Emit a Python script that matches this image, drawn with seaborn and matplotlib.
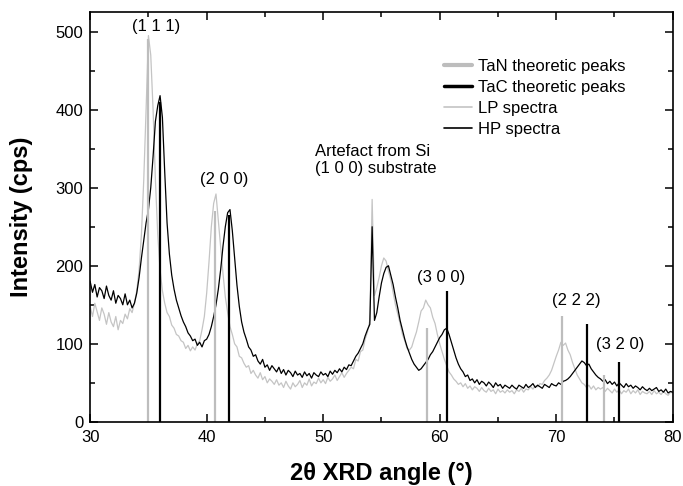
import numpy as np
import pandas as pd
import matplotlib
matplotlib.use("Agg")
import matplotlib.pyplot as plt
from matplotlib.lines import Line2D
from matplotlib.ticker import MultipleLocator
import seaborn as sns

# sampling grid of the spectra (2theta, degrees)
angle = np.round(np.linspace(30.0, 80.0, 251), 1)

lp_spectra = [
    148, 135, 152, 141, 130, 146, 138, 125, 140, 128, 122, 135, 118, 130, 126, 138, 132, 145, 140, 152,
    168, 195, 240, 310, 400, 495, 470, 400, 310, 240, 195, 168, 152, 140, 135, 124, 120, 112, 110, 104,
    102, 94, 98, 91, 96, 92, 100, 104, 118, 135, 165, 205, 250, 280, 292, 258, 225, 190, 160, 140,
    122, 112, 100, 96, 84, 82, 75, 70, 72, 62, 66, 60, 56, 63, 54, 58, 50, 55, 52, 48,
    54, 47, 50, 44, 52, 46, 42, 50, 45, 48, 53, 44, 50, 47, 55, 46, 51, 49, 56, 50,
    54, 49, 57, 52, 55, 60, 53, 58, 63, 57, 62, 66, 70, 68, 80, 78, 90, 92, 106, 115,
    130, 285, 162, 172, 185, 200, 210, 206, 193, 182, 166, 150, 138, 126, 112, 104, 94, 92, 96, 106,
    115, 128, 142, 146, 156, 150, 146, 134, 126, 112, 100, 90, 80, 72, 64, 60, 55, 52, 48, 50,
    45, 49, 43, 46, 41, 45, 43, 39, 44, 40, 38, 43, 39, 41, 36, 42, 38, 40, 37, 41,
    38, 40, 36, 41, 39, 43, 38, 42, 41, 45, 42, 46, 45, 49, 48, 53, 56, 60, 66, 75,
    84, 92, 102, 98, 101, 92, 86, 76, 68, 60, 55, 50, 48, 44, 47, 42, 46, 41, 44, 42,
    44, 39, 43, 40, 37, 42, 38, 41, 36, 40, 38, 42, 36, 40, 37, 41, 35, 39, 37, 36,
    39, 35, 40, 36, 38, 35, 39, 36, 34, 38, 37,
]

hp_spectra = [
    180, 166, 176, 160, 172, 168, 158, 174, 162, 156, 168, 152, 162, 158, 150, 164, 150, 156, 146, 152,
    165, 185, 210, 232, 255, 272, 300, 340, 385, 405, 418, 390, 320, 255, 215, 188, 170, 156, 146, 136,
    128, 122, 114, 110, 104, 106, 98, 102, 96, 104, 106, 112, 122, 135, 150, 170, 195, 225, 250, 268,
    272, 245, 210, 175, 148, 128, 115, 106, 96, 92, 84, 86, 78, 74, 80, 70, 73, 66, 72, 68,
    64, 70, 62, 67, 60, 66, 63, 58, 65, 60, 62, 57, 64, 59, 62, 56, 63, 60, 58, 64,
    60, 62, 58, 65, 61, 66, 63, 68, 64, 70, 67, 73, 72, 78, 84, 88, 94, 100, 110, 118,
    125, 250, 130, 140, 160, 178, 190, 198, 200, 188, 176, 160, 146, 130, 118, 106, 96, 88, 80, 74,
    70, 66, 68, 72, 76, 80, 86, 90, 96, 102, 108, 112, 118, 120, 112, 102, 92, 82, 74, 68,
    64, 58, 60, 53, 55, 50, 54, 48, 52, 50, 46, 51, 48, 44, 50, 46, 48, 43, 47, 45,
    43, 47, 44, 42, 47, 45, 43, 48, 44, 46, 49, 44, 47, 45, 43, 48, 46, 44, 49, 47,
    46, 50, 48, 52, 53, 55, 58, 62, 66, 70, 74, 78, 76, 72, 74, 68, 64, 60, 57, 55,
    52, 54, 49, 52, 48, 51, 46, 50, 47, 44, 49, 45, 47, 43, 46, 44, 41, 45, 42, 40,
    43, 40, 42, 44, 39, 41, 38, 42, 37, 39, 38,
]

tan_peak_pos = [35.0, 40.7, 58.9, 70.5, 74.1]
tan_peak_int = [490, 270, 120, 136, 60]
tac_peak_pos = [36.0, 41.9, 60.6, 72.6, 75.4]
tac_peak_int = [410, 265, 168, 126, 77]

hkl_labels = ["(1 1 1)", "(2 0 0)", "(3 0 0)", "(2 2 2)", "(3 2 0)"]
hkl_x = [35.66, 41.5, 60.1, 71.7, 75.5]
hkl_y = [506, 310, 185, 155, 99]

legend_labels = ["TaN theoretic peaks", "TaC theoretic peaks", "LP spectra", "HP spectra"]

sns.set_style("ticks")
plt.rcParams["font.family"] = ["Liberation Sans", "DejaVu Sans"]
plt.rcParams["text.color"] = "black"
plt.rcParams["axes.labelcolor"] = "black"
plt.rcParams["xtick.color"] = "black"
plt.rcParams["ytick.color"] = "black"
plt.rcParams["axes.edgecolor"] = "black"

LIGHT = "#c4c4c4"
TAN_C = "#bdbdbd"

fig = plt.figure(figsize=(6.83, 4.86), dpi=100)
ax = fig.add_axes([0.132, 0.132, 0.853, 0.843])

df = pd.DataFrame({"angle": angle, "LP": lp_spectra, "HP": hp_spectra})

sns.lineplot(data=df, x="angle", y="LP", ax=ax, color=LIGHT, lw=0.9)
sns.lineplot(data=df, x="angle", y="HP", ax=ax, color="black", lw=0.9)

ax.vlines(tan_peak_pos, 0, tan_peak_int, colors=TAN_C, lw=1.6)
ax.vlines(tac_peak_pos, 0, tac_peak_int, colors="black", lw=1.6)

for lab, x, y in zip(hkl_labels, hkl_x, hkl_y):
    ax.text(x, y, lab, ha="center", va="center", fontsize=12)
ax.text(49.3, 336, "Artefact from Si\n(1 0 0) substrate", ha="left", va="center",
        fontsize=12, linespacing=1.15)

ax.set_xlim(30, 80)
ax.set_ylim(0, 525)
ax.xaxis.set_major_locator(MultipleLocator(10))
ax.xaxis.set_minor_locator(MultipleLocator(5))
ax.yaxis.set_major_locator(MultipleLocator(100))
ax.yaxis.set_minor_locator(MultipleLocator(50))
ax.tick_params(which="both", direction="in", top=True, right=True, width=1.1)
ax.tick_params(which="major", length=6, labelsize=12)
ax.tick_params(which="minor", length=3.5)
ax.tick_params(axis="x", which="major", pad=6)
ax.tick_params(axis="y", which="major", pad=5)
ax.tick_params(axis="x", which="both", labeltop=False)
ax.tick_params(axis="y", which="both", labelright=False)
for s in ax.spines.values():
    s.set_linewidth(1.2)
    s.set_visible(True)

ax.set_xlabel("2θ XRD angle (°)", fontsize=17, fontweight="bold", labelpad=12)
ax.set_ylabel("Intensity (cps)", fontsize=17, fontweight="bold", labelpad=16)

handles = [
    Line2D([], [], color=TAN_C, lw=3),
    Line2D([], [], color="black", lw=2.5),
    Line2D([], [], color=LIGHT, lw=1.2),
    Line2D([], [], color="black", lw=1.2),
]
ax.legend(handles, legend_labels, loc="upper left", bbox_to_anchor=(0.607, 0.885),
          frameon=False, fontsize=12, handlelength=1.7, handletextpad=0.35,
          labelspacing=0.35, borderaxespad=0, borderpad=0)

fig.savefig("out.png", dpi=100)
